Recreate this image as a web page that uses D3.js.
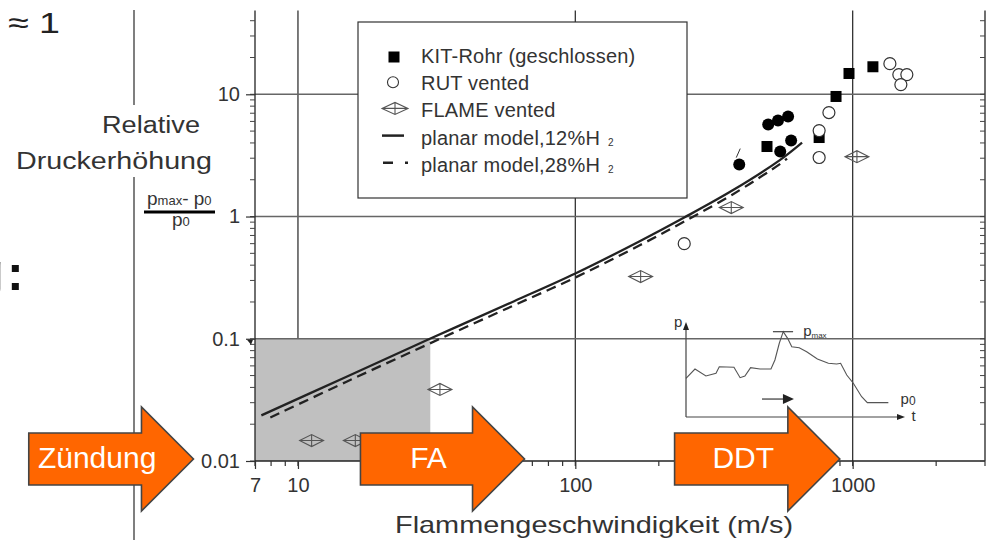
<!DOCTYPE html>
<html>
<head>
<meta charset="utf-8">
<script src="https://cdn.jsdelivr.net/npm/d3@7"></script>
<style>
  body { margin: 0; background: #fff; }
  text { font-family: Arial, "Liberation Sans", sans-serif; }
</style>
</head>
<body>
<svg id="chart" width="990" height="540"></svg>
<script>
// KIT-Rohr (geschlossen) - filled squares
const kitSpeed = [1183, 970, 871, 491, 757];
const kitPress = [16.8, 14.8, 9.6, 3.74, 4.43];
// filled circles (not in legend)
const dotSpeed = [390, 496, 538, 585, 600, 548];
const dotPress = [2.66, 5.65, 6.1, 6.57, 4.18, 3.4];
// RUT vented - open circles
const rutSpeed = [1362, 1467, 1568, 1492, 821, 757, 757, 247];
const rutPress = [17.8, 14.5, 14.5, 12.0, 7.09, 5.05, 3.04, 0.60];
// FLAME vented - diamonds
const flameSpeed = [1036, 365, 172, 32.5, 11.2, 16.1];
const flamePress = [3.09, 1.185, 0.323, 0.0385, 0.0147, 0.0147];
// planar model curves
const model12Speed = [7.38, 14.9, 29.9, 59.9, 100, 170, 247, 368, 543, 657];
const model12Press = [0.0236, 0.0487, 0.1, 0.202, 0.342, 0.625, 0.981, 1.63, 2.87, 4.03];
const model28Speed = [7.95, 14.9, 29.9, 59.9, 100, 170, 247, 368, 543, 580];
const model28Press = [0.0227, 0.0443, 0.0916, 0.187, 0.317, 0.579, 0.91, 1.51, 2.66, 2.98];

// axis ticks
const xMajor = [7, 10, 100, 1000];
const yMajor = [0.01, 0.1, 1, 10];
const xGrid = [10, 100, 1000];
const yGrid = [0.1, 1, 10];
const yTopValue = 48.5;
const shadeSpeed = [7, 30];
const shadePress = [0.01, 0.1];

// phases (orange arrows)
const phaseNames = ["Zündung", "FA", "DDT"];
const phaseStart = [1.07, 16.8, 228];
const phaseEnd = [4.2, 65.6, 899];

// inset pressure trace (schematic, arbitrary units 0..100)
const traceT = [0, 4.1, 9.1, 13.7, 15.2, 21.9, 24.7, 26.9, 29.5, 33.8, 38.8, 40.6, 42.6, 44.4,
  46.4, 48.3, 51.7, 55.1, 60, 65, 68.8, 70.6, 73.4, 76.4, 80.2, 82.8, 92.4];
const traceP = [40.7, 50.5, 43.2, 46, 52.9, 52.3, 41.4, 43.2, 51.9, 50.5, 50.5, 60, 77.6, 89.8,
  82.8, 74, 72.9, 68.7, 61, 56.5, 55.8, 56.5, 44.2, 35.5, 21.4, 15.1, 15.1];

const legendLabels = ["KIT-Rohr (geschlossen)", "RUT vented", "FLAME vented",
  "planar model,12%H", "planar model,28%H"];

const svg = d3.select("#chart");
const ink = "#333";

const x = d3.scaleLog().domain([7, 3000]).range([255, 985]);
const y = d3.scaleLog().domain([0.01, 10]).range([461, 94.3]);
const yTop = y(yTopValue);

const zip = (a, b) => a.map((v, i) => [v, b[i]]);

// minor tick values for each decade
function minorTicks(lo, hi) {
  const out = [];
  for (let dec = 1e-3; dec <= 1e4; dec *= 10) {
    for (let k = 1; k <= 9; k++) {
      const v = +(k * dec).toPrecision(3);
      if (v >= lo && v <= hi) out.push(v);
    }
  }
  return out;
}

// ---- grid ----
svg.append("g").selectAll("line").data(xGrid).enter().append("line")
  .attr("x1", d => x(d)).attr("x2", d => x(d))
  .attr("y1", yTop).attr("y2", y(0.01))
  .attr("stroke", "#333").attr("stroke-width", 1.3);

svg.append("rect")
  .attr("x", x(shadeSpeed[0])).attr("y", y(shadePress[1]))
  .attr("width", x(shadeSpeed[1]) - x(shadeSpeed[0]))
  .attr("height", y(shadePress[0]) - y(shadePress[1]))
  .attr("fill", "#c0c0c0");

svg.append("g").selectAll("line").data(yGrid).enter().append("line")
  .attr("x1", x(7)).attr("x2", x(3000))
  .attr("y1", d => y(d)).attr("y2", d => y(d))
  .attr("stroke", "#666").attr("stroke-width", 1.5);

// ---- axes ----
const axisG = svg.append("g").attr("stroke", "#222").attr("stroke-width", 1.3);
axisG.append("line").attr("x1", x(7)).attr("x2", x(7)).attr("y1", yTop).attr("y2", y(0.01));
axisG.append("line").attr("x1", x(3000)).attr("x2", x(3000)).attr("y1", yTop).attr("y2", y(0.01));
axisG.append("line").attr("x1", x(7)).attr("x2", x(3000)).attr("y1", y(0.01)).attr("y2", y(0.01));

// y minor ticks, left side (outward)
svg.append("g").selectAll("line").data(minorTicks(0.01, yTopValue)).enter().append("line")
  .attr("x1", x(7) - 5).attr("x2", x(7))
  .attr("y1", d => y(d)).attr("y2", d => y(d))
  .attr("stroke", "#444").attr("stroke-width", 1);
// right axis minor ticks (inward)
svg.append("g").selectAll("line").data(minorTicks(0.01, yTopValue)).enter().append("line")
  .attr("x1", x(3000) - 5).attr("x2", x(3000))
  .attr("y1", d => y(d)).attr("y2", d => y(d))
  .attr("stroke", "#444").attr("stroke-width", 1);
// x minor ticks (downward)
svg.append("g").selectAll("line").data(minorTicks(7, 3000)).enter().append("line")
  .attr("x1", d => x(d)).attr("x2", d => x(d))
  .attr("y1", y(0.01)).attr("y2", y(0.01) + 5)
  .attr("stroke", "#333").attr("stroke-width", 1.2);

const yAxis = svg.append("g").attr("transform", `translate(${x(7)},0)`)
  .call(d3.axisLeft(y).tickValues(yMajor).tickSize(9).tickPadding(6)
    .tickFormat(d => d3.format("~g")(d)));
const xAxis = svg.append("g").attr("transform", `translate(0,${y(0.01)})`)
  .call(d3.axisBottom(x).tickValues(xMajor).tickSize(8).tickPadding(9)
    .tickFormat(d => d3.format("~g")(d)));
[yAxis, xAxis].forEach(a => {
  a.select(".domain").remove();
  a.selectAll(".tick line").attr("stroke", "#333").attr("stroke-width", 1.2);
  a.selectAll(".tick text").attr("font-size", 20).attr("fill", ink)
    .attr("font-family", "Arial, 'Liberation Sans', sans-serif");
});

// small marker at the 0.1 label
svg.append("path")
  .attr("d", `M${x(7) - 8},${y(0.1) + 1}L${x(7) - 2},${y(0.1) + 1}L${x(7) - 4},${y(0.1) + 6}Z`)
  .attr("fill", "#222");

// ---- legend ----
const leg = svg.append("g").attr("transform", "translate(358,22)");
leg.append("rect").attr("width", 329).attr("height", 176)
  .attr("fill", "#fff").attr("stroke", "#333").attr("stroke-width", 1.2);
const legRows = leg.selectAll(".row").data(legendLabels).enter().append("g")
  .attr("class", "row")
  .attr("transform", (d, i) => `translate(0,${35 + i * 27.2})`);
legRows.append("text").attr("x", 63).attr("y", 6).attr("font-size", 20)
  .attr("letter-spacing", 0.2).attr("fill", ink)
  .text(d => d)
  .filter((d, i) => i >= 3)
  .append("tspan").attr("dx", 8).attr("dy", 1).attr("font-size", 10).text("2");

// ---- model lines ----
const line = d3.line().x(d => x(d[0])).y(d => y(d[1])).curve(d3.curveCatmullRom.alpha(0.5));
svg.append("path").datum(zip(model12Speed, model12Press))
  .attr("d", line).attr("fill", "none").attr("stroke", "#222").attr("stroke-width", 2.3);
svg.append("path").datum(zip(model28Speed, model28Press))
  .attr("d", line).attr("fill", "none").attr("stroke", "#222").attr("stroke-width", 2.3)
  .attr("stroke-dasharray", "10,6");

// ---- markers ----
const diamond = "M-12,0L0,-6L12,0L0,6ZM-12,0L12,0M0,-6L0,6";
function drawDiamonds(g, pts) {
  g.selectAll("path").data(pts).enter().append("path")
    .attr("transform", d => `translate(${x(d[0])},${y(d[1])})`)
    .attr("d", diamond).attr("fill", "none").attr("stroke", "#555").attr("stroke-width", 1.1);
}
drawDiamonds(svg.append("g"), zip(flameSpeed, flamePress));

svg.append("g").selectAll("rect").data(zip(kitSpeed, kitPress)).enter().append("rect")
  .attr("x", d => x(d[0]) - 5.5).attr("y", d => y(d[1]) - 5.5)
  .attr("width", 11).attr("height", 11).attr("fill", "#000");

const dotG = svg.append("g");
dotG.selectAll("circle").data(zip(dotSpeed, dotPress)).enter().append("circle")
  .attr("cx", d => x(d[0])).attr("cy", d => y(d[1])).attr("r", 6).attr("fill", "#000");
// little stroke above the first filled circle
dotG.append("line")
  .attr("x1", x(dotSpeed[0]) - 3).attr("y1", y(dotPress[0]) - 7)
  .attr("x2", x(dotSpeed[0]) + 1).attr("y2", y(dotPress[0]) - 16)
  .attr("stroke", "#333").attr("stroke-width", 1);

svg.append("g").selectAll("circle").data(zip(rutSpeed, rutPress)).enter().append("circle")
  .attr("cx", d => x(d[0])).attr("cy", d => y(d[1])).attr("r", 6)
  .attr("fill", "#fff").attr("stroke", "#333").attr("stroke-width", 1.2);

// legend symbols
const symX = 36;
leg.append("rect").attr("x", symX - 5.5).attr("y", 35 - 5.5).attr("width", 11).attr("height", 11).attr("fill", "#000");
leg.append("circle").attr("cx", symX - 1).attr("cy", 35 + 27.2 - 2).attr("r", 5.5)
  .attr("fill", "#fff").attr("stroke", "#333").attr("stroke-width", 1.1);
leg.append("path").attr("transform", `translate(${symX + 1},${35 + 2 * 27.2 - 3})`)
  .attr("d", "M-13,0L0,-6L13,0L0,6ZM-13,0L13,0M0,-6L0,6")
  .attr("fill", "none").attr("stroke", "#555").attr("stroke-width", 1.1);
leg.append("line").attr("x1", symX - 12).attr("x2", symX + 10)
  .attr("y1", 35 + 3 * 27.2 - 3).attr("y2", 35 + 3 * 27.2 - 3)
  .attr("stroke", "#222").attr("stroke-width", 2.5);
leg.append("line").attr("x1", symX - 11).attr("x2", symX + 14)
  .attr("y1", 35 + 4 * 27.2 - 3).attr("y2", 35 + 4 * 27.2 - 3)
  .attr("stroke", "#222").attr("stroke-width", 2.5).attr("stroke-dasharray", "10,12,3");

// ---- inset p-t sketch ----
const it = d3.scaleLinear().domain([0, 100]).range([686, 905]);
const ip = d3.scaleLinear().domain([0, 100]).range([417, 322]);
const inset = svg.append("g").attr("stroke", "#444").attr("fill", "none");
inset.append("path").datum(zip(traceT, traceP))
  .attr("d", d3.line().x(d => it(d[0])).y(d => ip(d[1])))
  .attr("stroke", "#555").attr("stroke-width", 1.1);
inset.append("line").attr("x1", it(0)).attr("x2", it(0)).attr("y1", ip(0)).attr("y2", ip(96))
  .attr("stroke-width", 1.2);
inset.append("line").attr("x1", it(0)).attr("x2", it(97)).attr("y1", ip(0)).attr("y2", ip(0))
  .attr("stroke-width", 1.2);
inset.append("path").attr("d", `M${it(0)},${ip(100)}l-3,8h6Z`).attr("fill", "#222").attr("stroke", "none");
inset.append("path").attr("d", `M${it(100)},${ip(0)}l-8,-3v6Z`).attr("fill", "#222").attr("stroke", "none");
inset.append("line").attr("x1", it(39.7)).attr("x2", it(48.9)).attr("y1", ip(89.8)).attr("y2", ip(89.8))
  .attr("stroke-width", 1.2);
inset.append("line").attr("x1", it(34.7)).attr("x2", it(45)).attr("y1", ip(18.9)).attr("y2", ip(18.9))
  .attr("stroke-width", 1.3);
inset.append("path").attr("d", `M${it(49.3)},${ip(18.9)}l-11,-5v10Z`).attr("fill", "#222").attr("stroke", "none");

const insetText = svg.append("g").attr("fill", ink).attr("font-size", 15);
insetText.append("text").attr("x", it(-5.5)).attr("y", ip(95)).text("p");
const pmax = insetText.append("text").attr("x", it(53.5)).attr("y", ip(85.5)).text("p");
pmax.append("tspan").attr("font-size", 8).attr("dy", 2).text("max");
const p0 = insetText.append("text").attr("x", it(98)).attr("y", ip(14)).text("p");
p0.append("tspan").attr("font-size", 12).attr("dy", 1).text("0");
insetText.append("text").attr("x", it(103)).attr("y", ip(-4.5)).text("t");

// ---- left panel texts ----
svg.append("line").attr("x1", 134).attr("x2", 134).attr("y1", 10).attr("y2", 105)
  .attr("stroke", "#555").attr("stroke-width", 1.5);
svg.append("line").attr("x1", 134).attr("x2", 134).attr("y1", 177).attr("y2", 540)
  .attr("stroke", "#555").attr("stroke-width", 1.5);

svg.append("text").attr("x", 8).attr("y", 33).attr("font-size", 30).attr("fill", "#222")
  .attr("textLength", 52).attr("lengthAdjust", "spacingAndGlyphs").text("≈ 1");
svg.append("text").attr("x", 4).attr("y", 290).attr("text-anchor", "end")
  .attr("font-size", 54).attr("font-weight", "bold").attr("fill", "#111").text("g");
svg.append("text").attr("x", 7).attr("y", 290)
  .attr("font-size", 50).attr("font-weight", "bold").attr("fill", "#111").text(":");

svg.append("text").attr("x", 151).attr("y", 133).attr("text-anchor", "middle")
  .attr("font-size", 23).attr("fill", ink)
  .attr("textLength", 98).attr("lengthAdjust", "spacingAndGlyphs").text("Relative");
svg.append("text").attr("x", 114).attr("y", 169).attr("text-anchor", "middle")
  .attr("font-size", 23).attr("fill", ink)
  .attr("textLength", 196).attr("lengthAdjust", "spacingAndGlyphs").text("Druckerhöhung");

const num = svg.append("text").attr("x", 147).attr("y", 205).attr("fill", ink).attr("font-size", 19);
num.append("tspan").text("p");
num.append("tspan").attr("font-size", 13).text("max");
num.append("tspan").text("- p");
num.append("tspan").attr("font-size", 13).text("0");
svg.append("line").attr("x1", 144).attr("x2", 215).attr("y1", 212).attr("y2", 212)
  .attr("stroke", "#000").attr("stroke-width", 3);
const den = svg.append("text").attr("x", 172).attr("y", 226).attr("fill", ink).attr("font-size", 19);
den.append("tspan").text("p");
den.append("tspan").attr("font-size", 13).text("0");

svg.append("text").attr("x", 594).attr("y", 533).attr("text-anchor", "middle")
  .attr("font-size", 24).attr("fill", ink)
  .attr("textLength", 398).attr("lengthAdjust", "spacingAndGlyphs")
  .text("Flammengeschwindigkeit (m/s)");

// ---- phase arrows ----
const yc = 459, bodyH = 26, headH = 52, headL = 52;
const arrows = svg.append("g").selectAll("g").data(phaseNames).enter().append("g");
arrows.append("path")
  .attr("d", (d, i) => {
    const x0 = x(phaseStart[i]), x1 = x(phaseEnd[i]), xb = x1 - headL;
    return `M${x0},${yc - bodyH}H${xb}V${yc - headH}L${x1},${yc}L${xb},${yc + headH}V${yc + bodyH}H${x0}Z`;
  })
  .attr("fill", "#ff6600").attr("stroke", "#444").attr("stroke-width", 1.6);
arrows.append("text")
  .attr("x", (d, i) => (x(phaseStart[i]) + x(phaseEnd[i]) - headL) / 2 + 12)
  .attr("y", yc + 9).attr("text-anchor", "middle")
  .attr("font-size", 30).attr("fill", "#fff").text(d => d);
</script>
</body>
</html>
